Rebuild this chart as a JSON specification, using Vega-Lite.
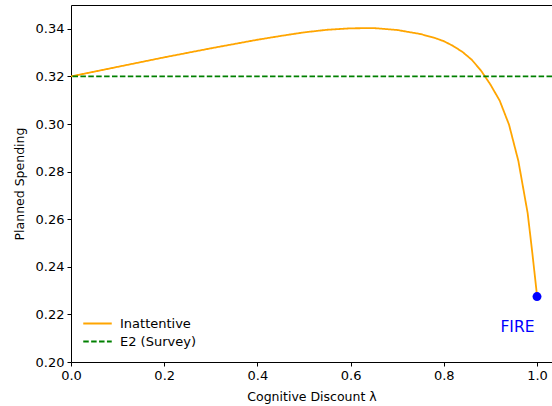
{
  "$schema": "https://vega.github.io/schema/vega-lite/v6.json",
  "width": 481,
  "height": 357,
  "autosize": {"type": "none"},
  "padding": {"left": 71, "top": 5, "right": 0, "bottom": 44},
  "background": "white",
  "config": {
    "view": {"stroke": null},
    "font": "DejaVu Sans",
    "axis": {
      "grid": false,
      "domainColor": "black",
      "domainWidth": 1,
      "tickColor": "black",
      "tickSize": 4,
      "tickWidth": 1,
      "labelColor": "black",
      "labelFont": "DejaVu Sans",
      "labelFontSize": 13,
      "labelPadding": 3,
      "labelFlush": false,
      "titleFont": "DejaVu Sans",
      "titleFontSize": 12.5,
      "titleFontWeight": "normal",
      "titleColor": "black"
    },
    "legend": {
      "labelFont": "DejaVu Sans",
      "labelFontSize": 13,
      "labelColor": "black"
    }
  },
  "datasets": {
    "curve": [
      {"lambda": 0.00, "spending": 0.3200, "series": "Inattentive"},
      {"lambda": 0.05, "spending": 0.3220, "series": "Inattentive"},
      {"lambda": 0.10, "spending": 0.3240, "series": "Inattentive"},
      {"lambda": 0.15, "spending": 0.3260, "series": "Inattentive"},
      {"lambda": 0.20, "spending": 0.3280, "series": "Inattentive"},
      {"lambda": 0.25, "spending": 0.3299, "series": "Inattentive"},
      {"lambda": 0.30, "spending": 0.3318, "series": "Inattentive"},
      {"lambda": 0.35, "spending": 0.3336, "series": "Inattentive"},
      {"lambda": 0.40, "spending": 0.3354, "series": "Inattentive"},
      {"lambda": 0.45, "spending": 0.3370, "series": "Inattentive"},
      {"lambda": 0.50, "spending": 0.3385, "series": "Inattentive"},
      {"lambda": 0.55, "spending": 0.3396, "series": "Inattentive"},
      {"lambda": 0.60, "spending": 0.3402, "series": "Inattentive"},
      {"lambda": 0.65, "spending": 0.3403, "series": "Inattentive"},
      {"lambda": 0.70, "spending": 0.3395, "series": "Inattentive"},
      {"lambda": 0.75, "spending": 0.3378, "series": "Inattentive"},
      {"lambda": 0.78, "spending": 0.3362, "series": "Inattentive"},
      {"lambda": 0.80, "spending": 0.3348, "series": "Inattentive"},
      {"lambda": 0.82, "spending": 0.3328, "series": "Inattentive"},
      {"lambda": 0.84, "spending": 0.3303, "series": "Inattentive"},
      {"lambda": 0.86, "spending": 0.3270, "series": "Inattentive"},
      {"lambda": 0.88, "spending": 0.3224, "series": "Inattentive"},
      {"lambda": 0.90, "spending": 0.3166, "series": "Inattentive"},
      {"lambda": 0.92, "spending": 0.3098, "series": "Inattentive"},
      {"lambda": 0.94, "spending": 0.2997, "series": "Inattentive"},
      {"lambda": 0.96, "spending": 0.2845, "series": "Inattentive"},
      {"lambda": 0.98, "spending": 0.2625, "series": "Inattentive"},
      {"lambda": 0.99, "spending": 0.2458, "series": "Inattentive"},
      {"lambda": 1.00, "spending": 0.2280, "series": "Inattentive"}
    ],
    "survey": [{"spending": 0.32, "series": "E2 (Survey)"}],
    "fire": [{"lambda": 1.0, "spending": 0.2275, "label": "FIRE", "lx": 0.958, "ly": 0.2147}]
  },
  "resolve": {"axis": {"x": "independent"}},
  "layer": [
    {
      "data": {"name": "curve"},
      "mark": {"type": "line", "strokeWidth": 1.8, "clip": true},
      "encoding": {
        "x": {
          "field": "lambda", "type": "quantitative",
          "scale": {"domain": [0, 1.0322], "nice": false, "zero": false},
          "axis": {"values": [0, 0.2, 0.4, 0.6, 0.8, 1.0], "format": ".1f", "title": "Cognitive Discount λ", "titlePadding": 8}
        },
        "y": {
          "field": "spending", "type": "quantitative",
          "scale": {"domain": [0.20, 0.35], "nice": false, "zero": false},
          "axis": {"values": [0.20, 0.22, 0.24, 0.26, 0.28, 0.30, 0.32, 0.34], "format": ".2f", "title": "Planned Spending", "titlePadding": 9}
        },
        "color": {
          "field": "series", "type": "nominal",
          "scale": {"domain": ["Inattentive", "E2 (Survey)"], "range": ["#FFA500", "#008000"]},
          "legend": {
            "title": null, "orient": "none", "legendX": 16, "legendY": 308,
            "symbolType": "M-1.5,0L1.5,0", "symbolSize": 361, "symbolStrokeWidth": 1.8,
            "labelOffset": 12, "rowPadding": 0, "padding": 0
          }
        },
        "strokeDash": {
          "field": "series", "type": "nominal",
          "scale": {"domain": ["Inattentive", "E2 (Survey)"], "range": [[1, 0], [5.5, 2.4]]},
          "legend": {
            "title": null, "orient": "none", "legendX": 16, "legendY": 308,
            "symbolType": "M-1.5,0L1.5,0", "symbolSize": 361, "symbolStrokeWidth": 1.8,
            "labelOffset": 12, "rowPadding": 0, "padding": 0
          }
        }
      }
    },
    {
      "data": {"name": "survey"},
      "mark": {"type": "rule", "strokeWidth": 1.8},
      "encoding": {
        "y": {"field": "spending", "type": "quantitative"},
        "color": {"field": "series", "type": "nominal"},
        "strokeDash": {"field": "series", "type": "nominal"}
      }
    },
    {
      "data": {"name": "fire"},
      "mark": {"type": "point", "filled": true, "color": "#0000FF", "size": 80, "opacity": 1},
      "encoding": {
        "x": {"field": "lambda", "type": "quantitative", "axis": {"orient": "top", "labels": false, "ticks": false, "title": null, "domain": true}},
        "y": {"field": "spending", "type": "quantitative"}
      }
    },
    {
      "data": {"name": "fire"},
      "mark": {"type": "text", "color": "#0000FF", "fontSize": 15.5, "font": "DejaVu Sans", "align": "center", "baseline": "middle"},
      "encoding": {
        "x": {"field": "lx", "type": "quantitative", "axis": null},
        "y": {"field": "ly", "type": "quantitative"},
        "text": {"field": "label"}
      }
    }
  ]
}
